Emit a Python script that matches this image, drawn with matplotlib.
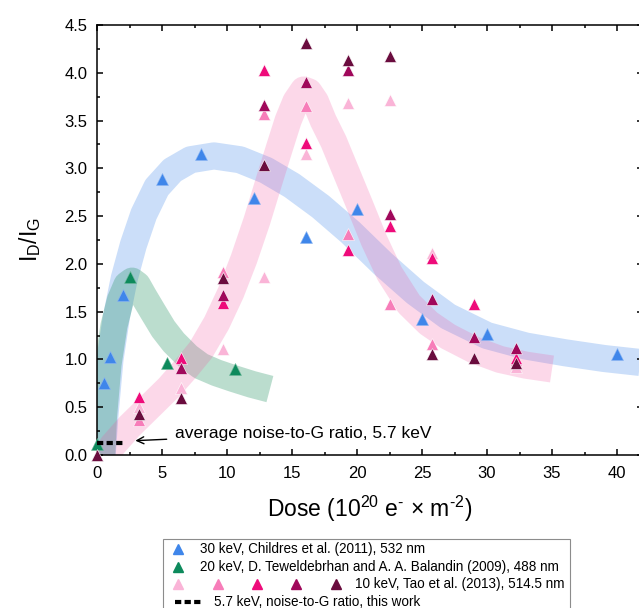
import matplotlib
matplotlib.use("Agg")
import matplotlib.pyplot as plt
from matplotlib.lines import Line2D
from matplotlib.patches import Rectangle
from matplotlib.ticker import MultipleLocator, FormatStrFormatter


# ──────────────────────────────────────────────
# Data
# ──────────────────────────────────────────────
# 30 keV, Childres et al. (2011)
blue_x = [0.5, 1.0, 2.0, 5.0, 8.0, 12.1, 16.1, 20.0, 25.0, 30.0, 40.0]
blue_y = [0.75, 1.03, 1.67, 2.89, 3.15, 2.69, 2.28, 2.57, 1.42, 1.27, 1.06]

# 20 keV, Teweldebrhan and Balandin (2009)
green_x = [0.0, 2.5, 5.35, 10.65]
green_y = [0.11, 1.86, 0.96, 0.90]

# 10 keV, Tao et al. (2013) - five series, light to dark
tao1_x = [3.22, 6.44, 9.66, 12.88, 16.1, 19.32, 22.54, 25.76, 32.2]
tao1_y = [0.50, 0.70, 1.11, 1.86, 3.15, 3.68, 3.71, 2.11, 0.92]
tao2_x = [3.22, 9.66, 12.88, 16.1, 19.32, 22.54, 25.76, 32.2]
tao2_y = [0.37, 1.91, 3.57, 3.65, 2.31, 1.58, 1.16, 0.99]
tao3_x = [3.22, 6.44, 9.66, 12.88, 16.1, 19.32, 22.54, 25.76, 28.98, 32.2]
tao3_y = [0.61, 1.02, 1.59, 4.03, 3.26, 2.15, 2.40, 2.06, 1.58, 1.01]
tao4_x = [6.44, 9.66, 12.88, 16.1, 19.32, 22.54, 25.76, 28.98, 32.2]
tao4_y = [0.91, 1.67, 3.66, 3.90, 4.03, 2.52, 1.63, 1.24, 1.12]
tao5_x = [0.0, 3.22, 6.44, 9.66, 12.88, 16.1, 19.32, 22.54, 25.76, 28.98, 32.2]
tao5_y = [0.0, 0.43, 0.60, 1.85, 3.04, 4.31, 4.13, 4.18, 1.06, 1.01, 0.96]

# 5.7 keV noise-to-G ratio (this work)
noise_x = [0.0, 2.1]
noise_y = [0.13, 0.13]

# guide-to-the-eye bands (centre lines)
blue_band_x = [0.3, 0.6, 1.0, 1.5, 2.1, 2.8, 3.6, 4.6, 5.8, 7.2, 9.0, 11.0, 13.0,
               15.0, 17.2, 19.5, 22.0, 24.5, 27.0, 30.0, 33.0, 36.0, 39.0, 43.0]
blue_band_y = [-0.2, 0.4, 1.0, 1.45, 1.85, 2.2, 2.52, 2.8, 2.98, 3.09, 3.13, 3.09, 2.98,
               2.82, 2.6, 2.33, 2.0, 1.7, 1.45, 1.25, 1.14, 1.07, 1.01, 0.95]
green_band_x = [0.3, 0.5, 0.85, 1.3, 1.8, 2.3, 2.7, 3.1, 3.6, 4.3, 5.1, 5.9,
                7.0, 8.0, 9.2, 10.5, 11.9, 13.3]
green_band_y = [-0.2, 0.4, 0.95, 1.35, 1.62, 1.78, 1.82, 1.78, 1.66, 1.5, 1.32, 1.18,
                1.03, 0.93, 0.86, 0.8, 0.74, 0.69]
pink_band_x = [0.3, 1.2, 2.5, 4.0, 5.5, 6.8, 8.0, 9.2, 10.3, 11.3, 12.3, 13.2, 14.0,
               14.7, 15.3, 15.9, 16.3, 16.8, 17.4, 18.2, 19.2, 20.2, 21.3, 22.5,
               24.0, 25.5, 27.0, 29.0, 31.0, 33.0, 35.0]
pink_band_y = [-0.1, 0.1, 0.3, 0.5, 0.7, 0.9, 1.1, 1.38, 1.7, 2.05, 2.45, 2.85, 3.2,
               3.5, 3.7, 3.82, 3.8, 3.7, 3.5, 3.28, 2.95, 2.62, 2.25, 1.9,
               1.58, 1.38, 1.24, 1.1, 1.0, 0.94, 0.9]

# ──────────────────────────────────────────────
# Style
# ──────────────────────────────────────────────
C_BLUE = "#3f86ea"
C_GREEN = "#0d8a5c"
C_TAO = ["#fab4d7", "#f77db9", "#ee0b7a", "#a0085b", "#6a0c3e"]

W, H = 639, 608
plt.rcParams["font.family"] = ["Liberation Sans", "DejaVu Sans"]
plt.rcParams["mathtext.fontset"] = "custom"
plt.rcParams["mathtext.rm"] = "Liberation Sans"
plt.rcParams["mathtext.it"] = "Liberation Sans:italic"


def fpx(x, y):
    """pixel position (from top-left) -> figure fraction"""
    return x / W, (H - y) / H


fig = plt.figure(figsize=(W / 100, H / 100), dpi=100)
ax = fig.add_axes([97 / W, 1 - 455 / H, 546 / W, 430 / H])

# bands
band_kw = dict(lw=19.5, solid_capstyle="butt", solid_joinstyle="round", zorder=1)
ax.plot(blue_band_x, blue_band_y, color=C_BLUE, alpha=0.27, **band_kw)
ax.plot(green_band_x, green_band_y, color="#1f8f5f", alpha=0.3, **band_kw)
ax.plot(pink_band_x, pink_band_y, color="#f2519e", alpha=0.22, **band_kw)

# data points
mk = dict(ls="none", marker="^", ms=8, mew=0.4, clip_on=False, zorder=3)
ax.plot(blue_x, blue_y, color=C_BLUE, mec="#8db6f2", **mk)
ax.plot(green_x, green_y, color=C_GREEN, mec="#6fb89b", **mk)
for tx, ty, c in zip([tao1_x, tao2_x, tao3_x, tao4_x, tao5_x],
                     [tao1_y, tao2_y, tao3_y, tao4_y, tao5_y], C_TAO):
    ax.plot(tx, ty, color=c, mec="#ffffff", **mk)

ax.plot(noise_x, noise_y, color="black", lw=3, ls=(0, (1.5, 0.8)),
        dash_capstyle="butt", zorder=4)
ax.annotate("average noise-to-G ratio, 5.7 keV", xy=(2.95, 0.15), xytext=(6.0, 0.23),
            fontsize=12.5, ha="left", va="center",
            arrowprops=dict(arrowstyle="->", color="black", lw=1, shrinkA=4, shrinkB=0))

# axes
ax.set_xlim(0, 42)
ax.set_ylim(0, 4.5)
ax.xaxis.set_major_locator(MultipleLocator(5))
ax.xaxis.set_minor_locator(MultipleLocator(2.5))
ax.yaxis.set_major_locator(MultipleLocator(0.5))
ax.yaxis.set_minor_locator(MultipleLocator(0.25))
ax.yaxis.set_major_formatter(FormatStrFormatter("%.1f"))
ax.tick_params(which="both", direction="in", top=True, right=True, width=1.1, labelsize=12)
ax.tick_params(which="major", length=4.5, pad=7)
ax.tick_params(axis="x", which="major", pad=8)
ax.tick_params(which="minor", length=2.5)
for s in ax.spines.values():
    s.set_linewidth(1.1)

ax.set_xlabel("Dose (10$^{20}$ e$^{\\mathrm{\u2010}}$ × m$^{\\mathrm{\u2010}2}$)",
              fontsize=16.5, labelpad=9)
ax.set_ylabel("I$_{\\mathrm{D}}$/I$_{\\mathrm{G}}$", fontsize=16.5, labelpad=15)

# legend, drawn by hand in pixel coordinates
fig.add_artist(Rectangle(fpx(163, 625), 407 / W, 86 / H, transform=fig.transFigure,
                         facecolor="white", edgecolor="#8c8c8c", lw=0.8))
rows = [549, 566.5, 584, 601.5]
leg_fs = 9.75


def leg_marker(x, y, c):
    fig.add_artist(Line2D([fpx(x, y)[0]], [fpx(x, y)[1]], transform=fig.transFigure,
                          marker="^", ms=6.5, color=c, ls="none"))


leg_marker(178, rows[0], C_BLUE)
fig.text(*fpx(200, rows[0]), "30 keV, Childres et al. (2011), 532 nm", fontsize=leg_fs, va="center")
leg_marker(178, rows[1], C_GREEN)
fig.text(*fpx(200, rows[1]), "20 keV, D. Teweldebrhan and A. A. Balandin (2009), 488 nm",
         fontsize=leg_fs, va="center")
for lx, c in zip([178, 218, 257, 296, 336], C_TAO):
    leg_marker(lx, rows[2], c)
fig.text(*fpx(355, rows[2]), "10 keV, Tao et al. (2013), 514.5 nm", fontsize=leg_fs, va="center")
x0, y0 = fpx(175, rows[3])
x1, _ = fpx(203, rows[3])
fig.add_artist(Line2D([x0, x1], [y0, y0], transform=fig.transFigure, color="black",
                      lw=3, ls=(0, (1.5, 0.8))))
fig.text(*fpx(214, rows[3]), "5.7 keV, noise-to-G ratio, this work", fontsize=leg_fs, va="center")

fig.savefig("out.png", dpi=100)
